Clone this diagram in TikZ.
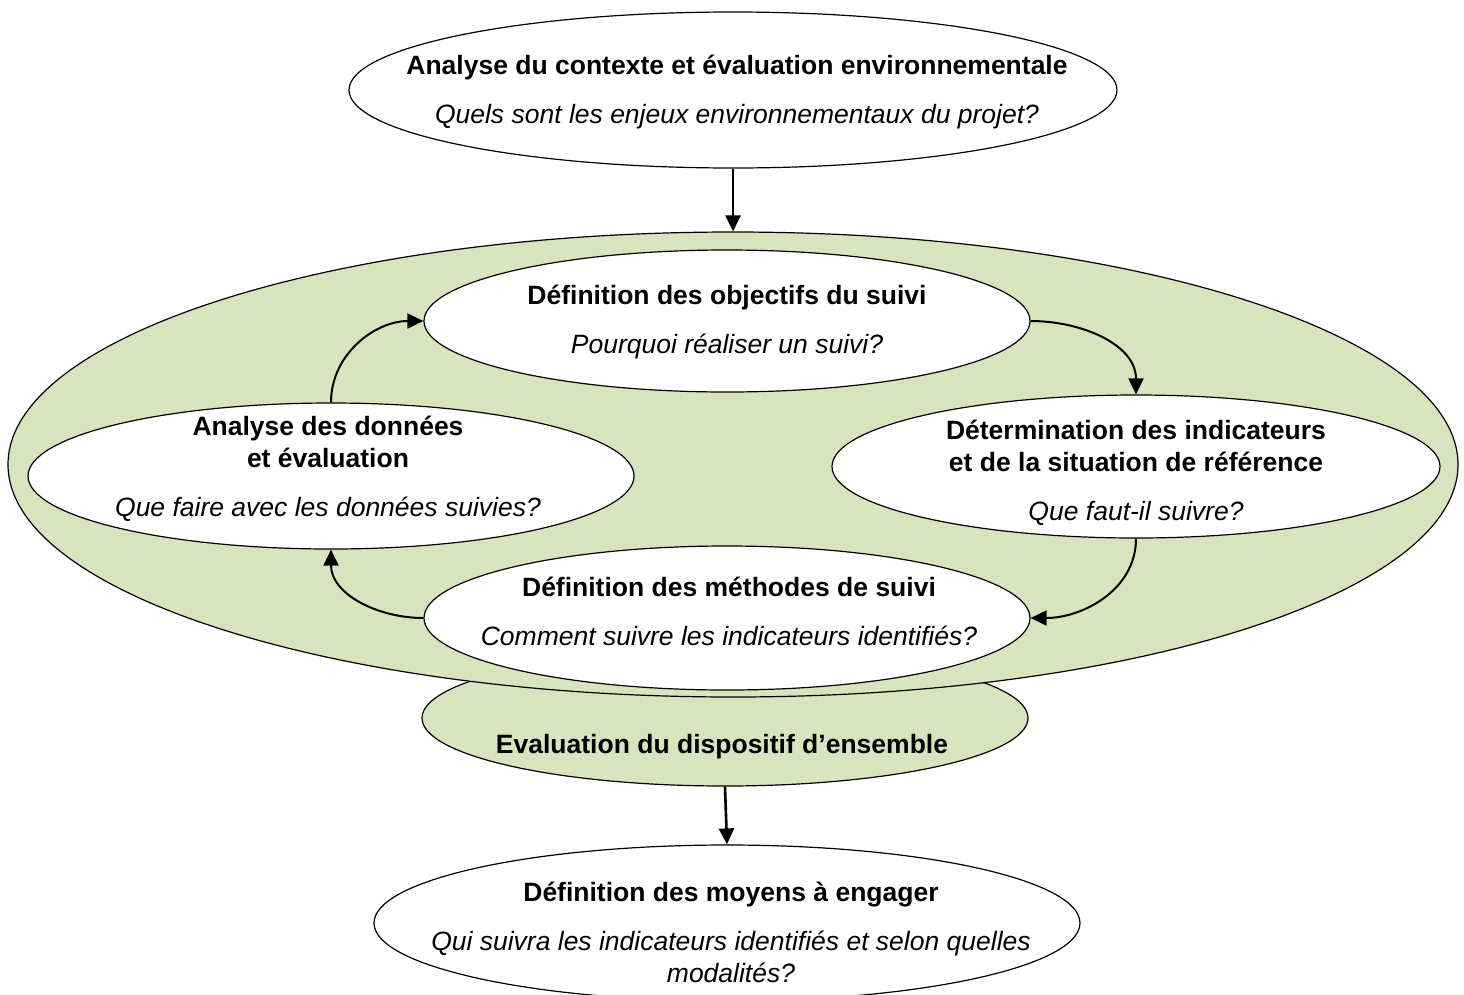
\documentclass[tikz,border=0pt]{standalone}
\usepackage{fontspec}
\setmainfont{Liberation Sans}
\usetikzlibrary{shapes.geometric,arrows.meta}
\definecolor{lightgreen}{RGB}{215,228,189}
\tikzset{
  ell/.style={ellipse,draw=black,line width=1.2pt,inner sep=0pt,fill=white},
  greenell/.style={ell,fill=lightgreen},
  txt/.style={align=center,inner sep=0pt,font=\fontsize{26.5}{32}\selectfont},
  arr/.style={line width=2.6pt,-{Triangle[length=16pt,width=15pt]}},
  carr/.style={line width=2pt,-{Triangle[length=16pt,width=15pt]}}
}
\begin{document}
\begin{tikzpicture}[x=1pt,y=1pt]
\useasboundingbox (0,0) rectangle (1464,-994);
% evaluation ellipse (behind)
\node[greenell,minimum width=606pt,minimum height=136pt] (eval) at (725,-718) {};
% big green ellipse
\node[greenell,minimum width=1450pt,minimum height=465pt] (big) at (733,-464.5) {};
% top
\node[ell,minimum width=768pt,minimum height=156pt] (top) at (733,-90) {};
\node[txt] (toptxt) at (737,-92.5) {\textbf{Analyse du contexte et évaluation environnementale}\\[17pt]\textit{Quels sont les enjeux environnementaux du projet?}};
% objectifs
\node[ell,minimum width=606pt,minimum height=142pt] (obj) at (727,-321) {};
\node[txt] (objtxt) at (727,-322) {\textbf{Définition des objectifs du suivi}\\[17pt]\textit{Pourquoi réaliser un suivi?}};
% analyse
\node[ell,minimum width=606pt,minimum height=146pt] (ana) at (331,-476) {};
\node[txt] (anatxt) at (328,-469) {\textbf{Analyse des données}\\\textbf{et évaluation}\\[17pt]\textit{Que faire avec les données suivies?}};
% determination
\node[ell,minimum width=608pt,minimum height=143pt] (det) at (1136,-466.5) {};
\node[txt] (dettxt) at (1136,-473) {\textbf{Détermination des indicateurs}\\\textbf{et de la situation de référence}\\[17pt]\textit{Que faut-il suivre?}};
% methodes
\node[ell,minimum width=606pt,minimum height=144pt] (meth) at (727,-618) {};
\node[txt] (methtxt) at (729,-611.5) {\textbf{Définition des méthodes de suivi}\\[17pt]\textit{Comment suivre les indicateurs identifiés?}};
% evaluation text
\node[txt] (evaltxt) at (722,-747) {\textbf{Evaluation du dispositif d’ensemble}};
% moyens
\node[ell,minimum width=706pt,minimum height=156pt] (moy) at (727,-923) {};
\node[txt] (moytxt) at (731,-932) {\textbf{Définition des moyens à engager}\\[17pt]\textit{Qui suivra les indicateurs identifiés et selon quelles}\\\textit{modalités?}};
% arrows
\draw[arr] (top.south) -- (big.north);
\draw[arr] (eval.south) -- (moy.north);
\draw[carr] (obj.east) to[out=0,in=90] (det.north);
\draw[carr] (det.south) to[out=-90,in=0] (meth.east);
\draw[carr] (meth.west) to[out=180,in=-90] (ana.south);
\draw[carr] (ana.north) to[out=90,in=180] (obj.west);
\end{tikzpicture}
\end{document}
